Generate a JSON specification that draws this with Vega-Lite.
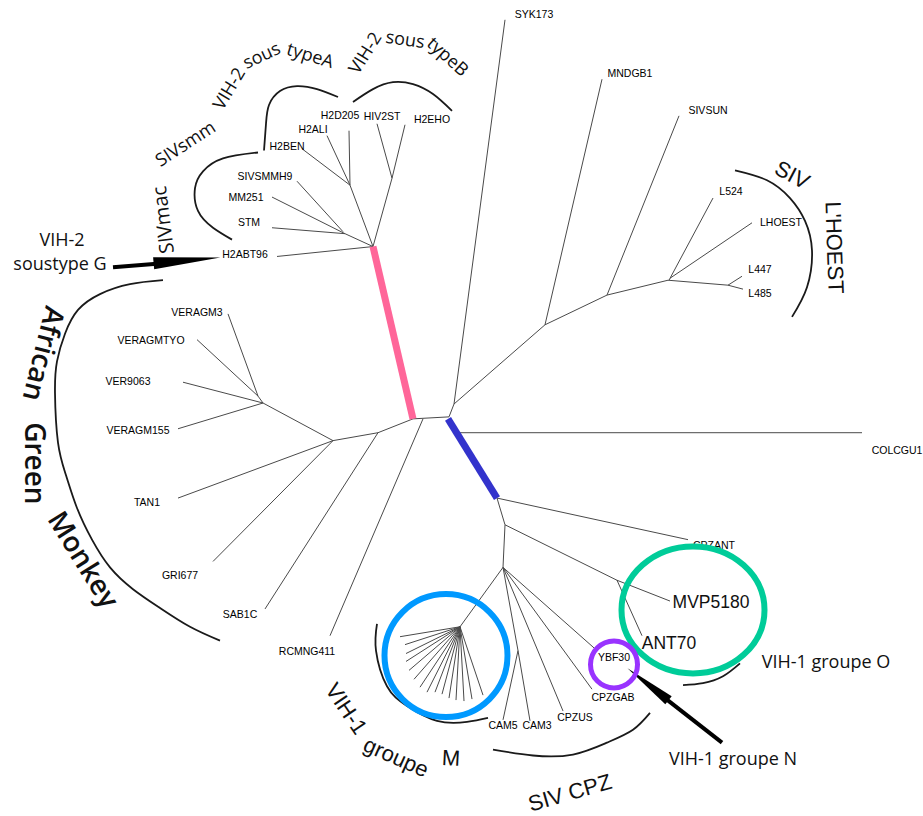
{
 "$schema": "https://vega.github.io/schema/vega-lite/v6.json",
 "width": 923, "height": 816,
 "autosize": {"type": "fit", "contains": "padding"},
 "padding": 0,
 "background": "white",
 "config": {"view": {"stroke": null}},
 "encoding": {
  "x": {"field": "x", "type": "quantitative", "scale": {"domain": [0, 923], "nice": false, "zero": false}, "axis": null},
  "y": {"field": "y", "type": "quantitative", "scale": {"domain": [0, 816], "nice": false, "zero": false, "reverse": true}, "axis": null}
 },
 "datasets": {
  "edges": [
   {"k": "t", "x": 413, "y": 423, "x2": 449, "y2": 421},
   {"k": "t", "x": 449, "y": 421, "x2": 454, "y2": 408},
   {"k": "t", "x": 454, "y": 408, "x2": 505, "y2": 20},
   {"k": "t", "x": 454, "y": 408, "x2": 545, "y2": 328},
   {"k": "t", "x": 545, "y": 328, "x2": 602, "y2": 80},
   {"k": "t", "x": 545, "y": 328, "x2": 607, "y2": 298},
   {"k": "t", "x": 607, "y": 298, "x2": 679, "y2": 117},
   {"k": "t", "x": 607, "y": 298, "x2": 668, "y2": 283},
   {"k": "t", "x": 669, "y": 283, "x2": 713, "y2": 200},
   {"k": "t", "x": 670, "y": 281, "x2": 752, "y2": 225},
   {"k": "t", "x": 668, "y": 283, "x2": 728, "y2": 288},
   {"k": "t", "x": 728, "y": 288, "x2": 742, "y2": 279},
   {"k": "t", "x": 728, "y": 288, "x2": 743, "y2": 292},
   {"k": "t", "x": 457, "y": 437, "x2": 862, "y2": 437},
   {"k": "t", "x": 413, "y": 423, "x2": 378, "y2": 437},
   {"k": "t", "x": 378, "y": 437, "x2": 333, "y2": 445},
   {"k": "t", "x": 378, "y": 437, "x2": 265, "y2": 615},
   {"k": "t", "x": 333, "y": 445, "x2": 263, "y2": 407},
   {"k": "t", "x": 333, "y": 445, "x2": 178, "y2": 503},
   {"k": "t", "x": 333, "y": 445, "x2": 213, "y2": 567},
   {"k": "t", "x": 263, "y": 407, "x2": 258, "y2": 400},
   {"k": "t", "x": 258, "y": 400, "x2": 228, "y2": 317},
   {"k": "t", "x": 258, "y": 400, "x2": 197, "y2": 343},
   {"k": "t", "x": 263, "y": 407, "x2": 183, "y2": 386},
   {"k": "t", "x": 263, "y": 407, "x2": 178, "y2": 433},
   {"k": "t", "x": 423, "y": 423, "x2": 330, "y2": 642},
   {"k": "t", "x": 373, "y": 249, "x2": 277, "y2": 259},
   {"k": "t", "x": 373, "y": 249, "x2": 345, "y2": 236},
   {"k": "t", "x": 345, "y": 236, "x2": 272, "y2": 230},
   {"k": "t", "x": 345, "y": 236, "x2": 272, "y2": 199},
   {"k": "t", "x": 343, "y": 234, "x2": 297, "y2": 183},
   {"k": "t", "x": 373, "y": 249, "x2": 350, "y2": 187},
   {"k": "t", "x": 350, "y": 187, "x2": 303, "y2": 151},
   {"k": "t", "x": 350, "y": 187, "x2": 327, "y2": 137},
   {"k": "t", "x": 350, "y": 187, "x2": 349, "y2": 132},
   {"k": "t", "x": 373, "y": 249, "x2": 392, "y2": 180},
   {"k": "t", "x": 392, "y": 180, "x2": 377, "y2": 125},
   {"k": "t", "x": 392, "y": 180, "x2": 405, "y2": 126},
   {"k": "t", "x": 497, "y": 503, "x2": 688, "y2": 545},
   {"k": "t", "x": 497, "y": 503, "x2": 505, "y2": 530},
   {"k": "t", "x": 505, "y": 530, "x2": 617, "y2": 586},
   {"k": "t", "x": 617, "y": 586, "x2": 670, "y2": 607},
   {"k": "t", "x": 617, "y": 586, "x2": 642, "y2": 642},
   {"k": "t", "x": 505, "y": 530, "x2": 503, "y2": 573},
   {"k": "t", "x": 503, "y": 573, "x2": 460, "y2": 633},
   {"k": "t", "x": 503, "y": 573, "x2": 518, "y2": 657},
   {"k": "t", "x": 518, "y": 657, "x2": 503, "y2": 727},
   {"k": "t", "x": 518, "y": 657, "x2": 530, "y2": 728},
   {"k": "t", "x": 503, "y": 573, "x2": 563, "y2": 718},
   {"k": "t", "x": 503, "y": 573, "x2": 592, "y2": 696},
   {"k": "t", "x": 503, "y": 573, "x2": 597, "y2": 657},
   {"k": "t", "x": 460, "y": 633, "x2": 400, "y2": 643},
   {"k": "t", "x": 460, "y": 633, "x2": 405, "y2": 651},
   {"k": "t", "x": 460, "y": 633, "x2": 406, "y2": 660},
   {"k": "t", "x": 460, "y": 633, "x2": 406, "y2": 668},
   {"k": "t", "x": 460, "y": 633, "x2": 409, "y2": 677},
   {"k": "t", "x": 460, "y": 633, "x2": 414, "y2": 686},
   {"k": "t", "x": 460, "y": 633, "x2": 420, "y2": 694},
   {"k": "t", "x": 460, "y": 633, "x2": 427, "y2": 699},
   {"k": "t", "x": 460, "y": 633, "x2": 435, "y2": 699},
   {"k": "t", "x": 460, "y": 633, "x2": 442, "y2": 701},
   {"k": "t", "x": 460, "y": 633, "x2": 449, "y2": 705},
   {"k": "t", "x": 460, "y": 633, "x2": 456, "y2": 707},
   {"k": "t", "x": 460, "y": 633, "x2": 464, "y2": 708},
   {"k": "t", "x": 460, "y": 633, "x2": 472, "y2": 706},
   {"k": "t", "x": 460, "y": 633, "x2": 483, "y2": 702},
   {"k": "p", "x": 373, "y": 249, "x2": 413, "y2": 423},
   {"k": "b", "x": 448, "y": 423, "x2": 497, "y2": 503}
  ],
  "arcs": [
   {"id": "smac", "s": 1, "x": 258, "y": 154}, {"id": "smac", "s": 2, "x": 223, "y": 160}, {"id": "smac", "s": 3, "x": 203, "y": 173}, {"id": "smac", "s": 4, "x": 195, "y": 190}, {"id": "smac", "s": 5, "x": 198, "y": 213}, {"id": "smac", "s": 6, "x": 213, "y": 230}, {"id": "smac", "s": 7, "x": 232, "y": 242},
   {"id": "smmA", "s": 1, "x": 264, "y": 152}, {"id": "smmA", "s": 2, "x": 266, "y": 125}, {"id": "smmA", "s": 3, "x": 269, "y": 106}, {"id": "smmA", "s": 4, "x": 280, "y": 92}, {"id": "smmA", "s": 5, "x": 297, "y": 87}, {"id": "smmA", "s": 6, "x": 317, "y": 90}, {"id": "smmA", "s": 7, "x": 338, "y": 98},
   {"id": "B", "s": 1, "x": 353, "y": 103}, {"id": "B", "s": 2, "x": 373, "y": 90}, {"id": "B", "s": 3, "x": 393, "y": 83}, {"id": "B", "s": 4, "x": 413, "y": 85}, {"id": "B", "s": 5, "x": 433, "y": 95}, {"id": "B", "s": 6, "x": 452, "y": 112},
   {"id": "lh", "s": 1, "x": 735, "y": 172}, {"id": "lh", "s": 2, "x": 767, "y": 182}, {"id": "lh", "s": 3, "x": 790, "y": 200}, {"id": "lh", "s": 4, "x": 805, "y": 223}, {"id": "lh", "s": 5, "x": 812, "y": 253}, {"id": "lh", "s": 6, "x": 807, "y": 290}, {"id": "lh", "s": 7, "x": 792, "y": 320},
   {"id": "agm", "s": 1, "x": 163, "y": 283}, {"id": "agm", "s": 2, "x": 130, "y": 287}, {"id": "agm", "s": 3, "x": 100, "y": 297}, {"id": "agm", "s": 4, "x": 78, "y": 313}, {"id": "agm", "s": 5, "x": 65, "y": 337}, {"id": "agm", "s": 6, "x": 57, "y": 365}, {"id": "agm", "s": 7, "x": 55, "y": 397}, {"id": "agm", "s": 8, "x": 58, "y": 447}, {"id": "agm", "s": 9, "x": 66, "y": 480}, {"id": "agm", "s": 10, "x": 77, "y": 513}, {"id": "agm", "s": 11, "x": 92, "y": 545}, {"id": "agm", "s": 12, "x": 110, "y": 573}, {"id": "agm", "s": 13, "x": 133, "y": 595}, {"id": "agm", "s": 14, "x": 160, "y": 614}, {"id": "agm", "s": 15, "x": 190, "y": 633}, {"id": "agm", "s": 16, "x": 220, "y": 647},
   {"id": "M", "s": 1, "x": 377, "y": 630}, {"id": "M", "s": 2, "x": 376, "y": 657}, {"id": "M", "s": 3, "x": 387, "y": 693}, {"id": "M", "s": 4, "x": 407, "y": 713}, {"id": "M", "s": 5, "x": 437, "y": 728}, {"id": "M", "s": 6, "x": 467, "y": 729}, {"id": "M", "s": 7, "x": 488, "y": 725},
   {"id": "cpz", "s": 1, "x": 493, "y": 757}, {"id": "cpz", "s": 2, "x": 533, "y": 763}, {"id": "cpz", "s": 3, "x": 573, "y": 762}, {"id": "cpz", "s": 4, "x": 607, "y": 750}, {"id": "cpz", "s": 5, "x": 633, "y": 737}, {"id": "cpz", "s": 6, "x": 650, "y": 720},
   {"id": "O", "s": 1, "x": 683, "y": 692}, {"id": "O", "s": 2, "x": 703, "y": 690}, {"id": "O", "s": 3, "x": 723, "y": 683}, {"id": "O", "s": 4, "x": 740, "y": 670}
  ],
  "arrows": [
   {"id": "G", "x": 113, "y": 270, "x2": 160, "y2": 266},
   {"id": "N", "x": 722, "y": 750, "x2": 665, "y2": 705}
  ],
  "heads": [
   {"id": "G", "x": 187, "y": 263},
   {"id": "N", "x": 648, "y": 691}
  ],
  "leaves": [
   {"t": "SYK173", "x": 534, "y": 15}, {"t": "MNDGB1", "x": 630, "y": 75}, {"t": "SIVSUN", "x": 708, "y": 112},
   {"t": "L524", "x": 731, "y": 194}, {"t": "LHOEST", "x": 781, "y": 225}, {"t": "L447", "x": 760, "y": 273}, {"t": "L485", "x": 760, "y": 297},
   {"t": "COLCGU1", "x": 897, "y": 455}, {"t": "CPZANT", "x": 714, "y": 551}, {"t": "CPZGAB", "x": 613, "y": 705},
   {"t": "YBF30", "x": 614, "y": 665}, {"t": "CPZUS", "x": 575, "y": 725}, {"t": "CAM3", "x": 537, "y": 733}, {"t": "CAM5", "x": 503, "y": 733},
   {"t": "RCMNG411", "x": 307, "y": 658}, {"t": "SAB1C", "x": 240, "y": 621}, {"t": "GRI677", "x": 180, "y": 582}, {"t": "TAN1", "x": 147, "y": 508},
   {"t": "VERAGM155", "x": 138, "y": 435}, {"t": "VER9063", "x": 128, "y": 386}, {"t": "VERAGMTYO", "x": 151, "y": 344}, {"t": "VERAGM3", "x": 197, "y": 316},
   {"t": "H2ABT96", "x": 245, "y": 258}, {"t": "STM", "x": 249, "y": 225}, {"t": "MM251", "x": 246, "y": 200}, {"t": "SIVSMMH9", "x": 265, "y": 179},
   {"t": "H2BEN", "x": 287, "y": 148}, {"t": "H2ALI", "x": 313, "y": 131}, {"t": "H2D205", "x": 340, "y": 117}, {"t": "HIV2ST", "x": 382, "y": 118}, {"t": "H2EHO", "x": 432, "y": 121}
  ],
  "big": [
   {"t": "MVP5180", "x": 711, "y": 609}, {"t": "ANT70", "x": 669, "y": 650}
  ],
  "notesOpen": [
   {"t": "VIH-2", "x": 62, "y": 243, "a": 0},
   {"t": "soustype G", "x": 60, "y": 268, "a": 0},
   {"t": "SIVsmm", "x": 186, "y": 146, "a": -33},
   {"t": "VIH-2", "x": 230, "y": 90, "a": -59},
   {"t": "sous", "x": 262, "y": 57, "a": -25},
   {"t": "typeA", "x": 310, "y": 57, "a": 17},
   {"t": "VIH-2", "x": 366, "y": 54, "a": -58},
   {"t": "sous", "x": 405, "y": 41, "a": 8},
   {"t": "typeB", "x": 447, "y": 58, "a": 42},
   {"t": "VIH-1 groupe O", "x": 826, "y": 670, "a": 0},
   {"t": "VIH-1 groupe N", "x": 733, "y": 768, "a": 0}
  ],
  "notesMac": [
   {"t": "SIVmac", "x": 164, "y": 222, "a": -97}
  ],
  "notesAGM": [
   {"t": "African", "x": 42, "y": 357, "a": 104},
   {"t": "Green", "x": 33, "y": 468, "a": 90},
   {"t": "Monkey", "x": 82, "y": 566, "a": 58}
  ],
  "notesLib": [
   {"t": "VIH-1", "x": 346, "y": 716, "a": 56},
   {"t": "groupe", "x": 396, "y": 765, "a": 24},
   {"t": "M", "x": 451, "y": 766, "a": 3},
   {"t": "SIV CPZ", "x": 570, "y": 801, "a": -16},
   {"t": "SIV", "x": 792, "y": 177, "a": 28},
   {"t": "L'HOEST", "x": 834, "y": 250, "a": 88}
  ],
  "circles": [
   {"id": "blue", "x": 446, "y": 662},
   {"id": "green", "x": 693, "y": 616},
   {"id": "purple", "x": 614, "y": 671}
  ]
 },
 "layer": [
  {"data": {"name": "edges"}, "transform": [{"filter": "datum.k == 't'"}],
   "mark": {"type": "rule", "color": "#4a4a4a", "strokeWidth": 1},
   "encoding": {"x2": {"field": "x2"}, "y2": {"field": "y2"}}},
  {"data": {"name": "edges"}, "transform": [{"filter": "datum.k == 'p'"}],
   "mark": {"type": "rule", "color": "#ff6699", "strokeWidth": 7},
   "encoding": {"x2": {"field": "x2"}, "y2": {"field": "y2"}}},
  {"data": {"name": "edges"}, "transform": [{"filter": "datum.k == 'b'"}],
   "mark": {"type": "rule", "color": "#3333cc", "strokeWidth": 7},
   "encoding": {"x2": {"field": "x2"}, "y2": {"field": "y2"}}},
  {"data": {"name": "arcs"},
   "mark": {"type": "line", "color": "#1a1a1a", "strokeWidth": 1.8, "interpolate": "natural"},
   "encoding": {"detail": {"field": "id"}, "order": {"field": "s", "type": "quantitative"}}},
  {"data": {"name": "arrows"},
   "mark": {"type": "rule", "color": "#000000", "strokeWidth": 4},
   "encoding": {"x2": {"field": "x2"}, "y2": {"field": "y2"}}},
  {"data": {"name": "heads"}, "transform": [{"filter": "datum.id == 'G'"}],
   "mark": {"type": "point", "shape": "M -1 -0.18 L 1 0 L -1 0.18 Z", "size": 4489, "angle": 355, "filled": true, "color": "#000000", "opacity": 1}},
  {"data": {"name": "heads"}, "transform": [{"filter": "datum.id == 'N'"}],
   "mark": {"type": "point", "shape": "M -1 -0.2 L 1 0 L -1 0.2 Z", "size": 2704, "angle": 218, "filled": true, "color": "#000000", "opacity": 1}},
  {"data": {"name": "leaves"},
   "mark": {"type": "text", "font": "Liberation Sans", "fontSize": 10.5, "color": "#000000", "align": "center", "baseline": "middle"},
   "encoding": {"text": {"field": "t"}}},
  {"data": {"name": "big"},
   "mark": {"type": "text", "font": "Liberation Sans", "fontSize": 17.5, "color": "#111111", "align": "center", "baseline": "middle"},
   "encoding": {"text": {"field": "t"}}},
  {"data": {"name": "notesOpen"},
   "mark": {"type": "text", "font": "Open Sans", "fontSize": 18, "color": "#111111", "align": "center", "baseline": "middle"},
   "encoding": {"text": {"field": "t"}, "angle": {"field": "a", "type": "quantitative", "scale": null}}},
  {"data": {"name": "notesMac"},
   "mark": {"type": "text", "font": "Open Sans", "fontSize": 20, "color": "#111111", "align": "center", "baseline": "middle"},
   "encoding": {"text": {"field": "t"}, "angle": {"field": "a", "type": "quantitative", "scale": null}}},
  {"data": {"name": "notesAGM"},
   "mark": {"type": "text", "font": "Open Sans", "fontSize": 28, "fontWeight": 600, "color": "#111111", "align": "center", "baseline": "middle"},
   "encoding": {"text": {"field": "t"}, "angle": {"field": "a", "type": "quantitative", "scale": null}}},
  {"data": {"name": "notesLib"},
   "mark": {"type": "text", "font": "Liberation Sans", "fontSize": 22, "color": "#111111", "align": "center", "baseline": "middle"},
   "encoding": {"text": {"field": "t"}, "angle": {"field": "a", "type": "quantitative", "scale": null}}},
  {"data": {"name": "circles"}, "transform": [{"filter": "datum.id == 'blue'"}],
   "mark": {"type": "point", "shape": "circle", "size": 15129, "filled": false, "stroke": "#0099ff", "strokeWidth": 6, "opacity": 1}},
  {"data": {"name": "circles"}, "transform": [{"filter": "datum.id == 'green'"}],
   "mark": {"type": "point", "shape": "M -1 0 C -1 -0.49 -0.552 -0.888 0 -0.888 C 0.552 -0.888 1 -0.49 1 0 C 1 0.49 0.552 0.888 0 0.888 C -0.552 0.888 -1 0.49 -1 0 Z", "size": 20449, "filled": false, "stroke": "#00cc99", "strokeWidth": 6, "opacity": 1}},
  {"data": {"name": "circles"}, "transform": [{"filter": "datum.id == 'purple'"}],
   "mark": {"type": "point", "shape": "circle", "size": 2209, "filled": false, "stroke": "#9933ff", "strokeWidth": 5, "opacity": 1}}
 ]
}
